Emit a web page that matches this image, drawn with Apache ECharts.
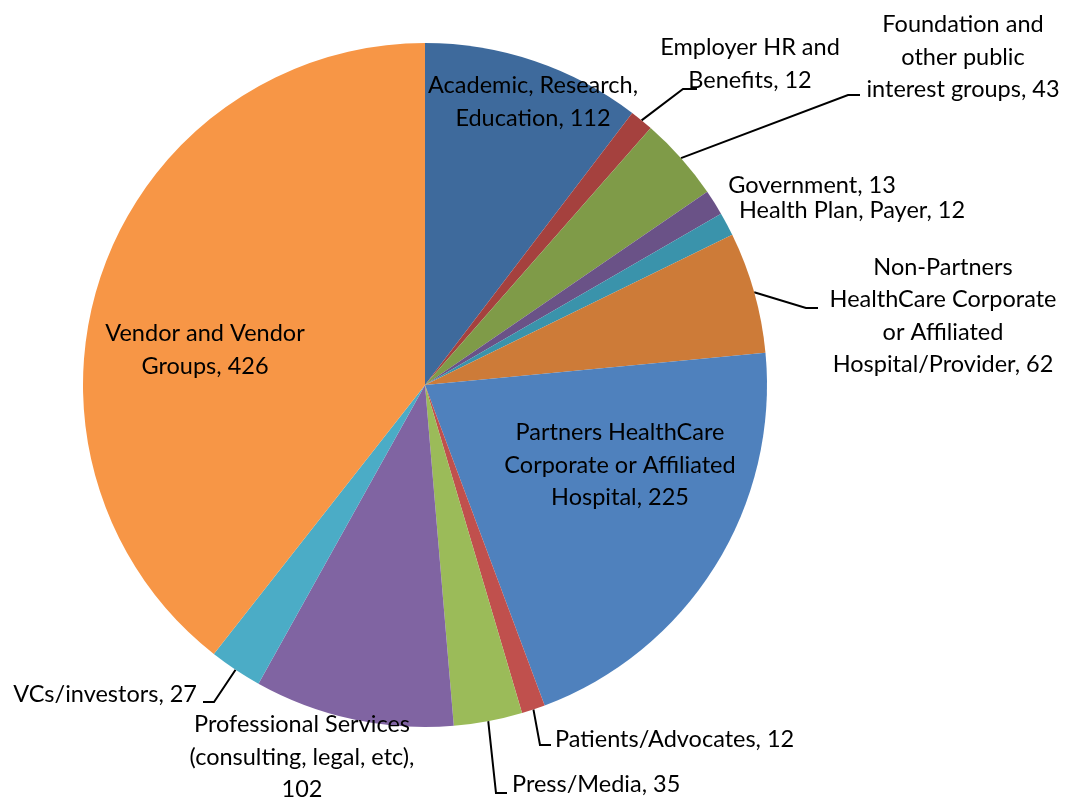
<!DOCTYPE html>
<html>
<head>
<meta charset="utf-8">
<script src="https://cdn.jsdelivr.net/npm/echarts@6/dist/echarts.min.js"></script>
<style>
  html, body { margin: 0; padding: 0; background: #fff; }
  #chart { width: 1068px; height: 798px; }
</style>
</head>
<body>
<div id="chart"></div>
<script>
// slices, clockwise from 12 o'clock
const categories = [
  'Academic, Research, Education',
  'Employer HR and Benefits',
  'Foundation and other public interest groups',
  'Government',
  'Health Plan, Payer',
  'Non-Partners HealthCare Corporate or Affiliated Hospital/Provider',
  'Partners HealthCare Corporate or Affiliated Hospital',
  'Patients/Advocates',
  'Press/Media',
  'Professional Services (consulting, legal, etc)',
  'VCs/investors',
  'Vendor and Vendor Groups'
];
const values = [112, 12, 43, 13, 12, 62, 225, 12, 35, 102, 27, 426];
// wrapped label text as shown on the chart
const labelText = [
  'Academic, Research,\nEducation, 112',
  'Employer HR and\nBenefits, 12',
  'Foundation and\nother public\ninterest groups, 43',
  'Government, 13',
  'Health Plan, Payer, 12',
  'Non-Partners\nHealthCare Corporate\nor Affiliated\nHospital/Provider, 62',
  'Partners HealthCare\nCorporate or Affiliated\nHospital, 225',
  'Patients/Advocates, 12',
  'Press/Media, 35',
  'Professional Services\n(consulting, legal, etc),\n102',
  'VCs/investors, 27',
  'Vendor and Vendor\nGroups, 426'
];

const colors = ['#3e6a9c', '#a5413e', '#7f9b48', '#6a5287', '#3a93ab', '#cd7b38',
  '#4f81bd', '#c0504d', '#9bbb59', '#8064a2', '#4bacc6', '#f79646'];

// where each label sits, and its leader line (bend, end)
const labelPos = [
  { x: 533, y: 102, align: 'center' },
  { x: 750, y: 64, align: 'center', line: [[683, 89], [697, 89]] },
  { x: 963, y: 57, align: 'center', line: [[848, 95], [860, 95]] },
  { x: 812, y: 185, align: 'center' },
  { x: 852, y: 210, align: 'center' },
  { x: 943, y: 316, align: 'center', line: [[806, 308], [818, 308]] },
  { x: 620, y: 465, align: 'center' },
  { x: 555, y: 739, align: 'left', line: [[540, 745], [551, 745]] },
  { x: 512, y: 784, align: 'left', line: [[496, 793], [507, 793]] },
  { x: 302, y: 757, align: 'center' },
  { x: 197, y: 694, align: 'right', line: [[214, 702], [203, 702]] },
  { x: 205, y: 350, align: 'center' }
];

const chart = echarts.init(document.getElementById('chart'), null, { renderer: 'canvas' });

chart.setOption({
  animation: false,
  color: colors,
  series: [{
    type: 'pie',
    center: [425, 385],
    radius: 342,
    startAngle: 90,
    clockwise: true,
    avoidLabelOverlap: false,
    itemStyle: { borderWidth: 0 },
    label: {
      show: true,
      position: 'outside',
      color: '#000',
      fontFamily: 'Lato, "Open Sans", sans-serif',
      fontSize: 23.5,
      lineHeight: 32.5,
      formatter: p => labelText[p.dataIndex]
    },
    labelLine: {
      show: true,
      lineStyle: { color: '#000', width: 2 }
    },
    labelLayout: function (params) {
      const pos = labelPos[params.dataIndex];
      const out = {
        x: pos.x,
        y: pos.y,
        align: pos.align,
        verticalAlign: 'middle'
      };
      if (pos.line && params.labelLinePoints) {
        out.labelLinePoints = [params.labelLinePoints[0], pos.line[0], pos.line[1]];
      }
      return out;
    },
    data: categories.map((name, i) => ({
      name: name,
      value: values[i],
      labelLine: { show: !!labelPos[i].line }
    }))
  }]
});
</script>
</body>
</html>
